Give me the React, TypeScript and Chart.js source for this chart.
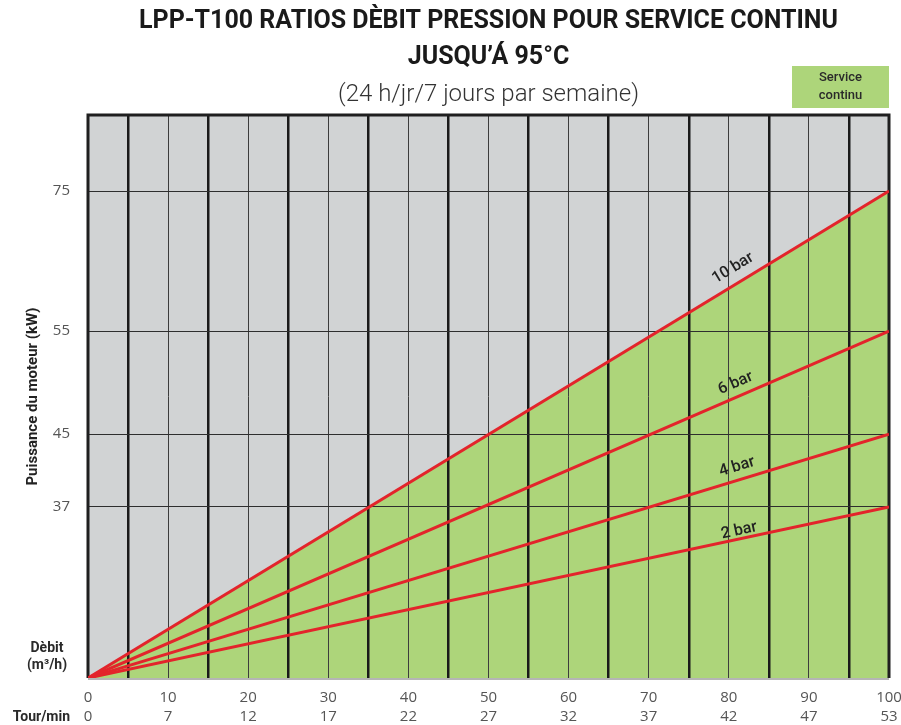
import React, { useEffect, useRef } from 'react';
import { Chart, registerables, LinearScale } from 'chart.js';

// ---------- data ----------
const DEBIT_TICKS = [0, 10, 20, 30, 40, 50, 60, 70, 80, 90, 100];
const TOUR_MIN = [0, 7, 12, 17, 22, 27, 32, 37, 42, 47, 53];
const DEBIT_RANGE = [0, 100];
const BAR_LABELS = ['10 bar', '6 bar', '4 bar', '2 bar'];
const KW_10 = [0, 75];
const KW_6 = [0, 55];
const KW_4 = [0, 45];
const KW_2 = [0, 37];
const KW_TICKS = [37, 45, 55, 75];

// ---------- style ----------
const GREY = '#d1d3d4';
const GREEN = '#add57a';
const RED = '#e3242b';
const DARK = '#1f1f1f';
const LABEL_AT = 81.5;
const LABEL_OFFSET = [15, 13, 13, 8];
// non-linear y axis of the reference: value -> fraction of plot height
const Y_STOPS: [number, number][] = [
  [0, 0],
  [37, 0.304],
  [45, 0.433],
  [55, 0.616],
  [75, 0.865],
  [87, 1],
];

function toDec(v: number) {
  for (let i = 1; i < Y_STOPS.length; i++) {
    const [v0, d0] = Y_STOPS[i - 1];
    const [v1, d1] = Y_STOPS[i];
    if (v <= v1 || i === Y_STOPS.length - 1) return d0 + ((v - v0) / (v1 - v0)) * (d1 - d0);
  }
  return 0;
}
function fromDec(d: number) {
  for (let i = 1; i < Y_STOPS.length; i++) {
    const [v0, d0] = Y_STOPS[i - 1];
    const [v1, d1] = Y_STOPS[i];
    if (d <= d1 || i === Y_STOPS.length - 1) return v0 + ((d - d0) / (d1 - d0)) * (v1 - v0);
  }
  return 0;
}

class StopScale extends LinearScale {
  static id = 'stops';
  static defaults = LinearScale.defaults;
  getPixelForValue(value: any) {
    if (value === null || value === undefined || Number.isNaN(value)) return NaN;
    return this.getPixelForDecimal(toDec(value));
  }
  getValueForPixel(pixel: number) {
    return fromDec(this.getDecimalForPixel(pixel));
  }
}

const plotBg = {
  id: 'plotBg',
  beforeDraw(chart: any) {
    const { ctx, chartArea: a } = chart;
    ctx.save();
    ctx.fillStyle = GREY;
    ctx.fillRect(a.left, a.top, a.right - a.left, a.bottom - a.top);
    ctx.restore();
  },
};

Chart.register(plotBg, ...registerables, StopScale as any);

const decor = {
  id: 'decor',
  beforeDatasetsDraw(chart: any) {
    const { ctx, chartArea: a } = chart;
    ctx.save();
    ctx.strokeStyle = '#b5b5b5';
    ctx.lineWidth = 2;
    ctx.beginPath();
    ctx.moveTo(a.left, a.bottom + 1);
    ctx.lineTo(a.right, a.bottom + 1);
    ctx.stroke();
    ctx.strokeStyle = DARK;
    ctx.lineWidth = 3;
    ctx.beginPath();
    ctx.moveTo(a.left, a.bottom);
    ctx.lineTo(a.left, a.top);
    ctx.lineTo(a.right, a.top);
    ctx.lineTo(a.right, a.bottom);
    ctx.stroke();
    ctx.restore();
  },
  afterDatasetsDraw(chart: any) {
    const { ctx, chartArea: a, scales } = chart;
    const xs = scales.x;
    const ys = scales.y;
    ctx.save();
    // line labels
    chart.data.datasets.forEach((ds: any, i: number) => {
      const p0 = ds.data[0];
      const p1 = ds.data[ds.data.length - 1];
      const x0 = xs.getPixelForValue(p0.x);
      const y0 = ys.getPixelForValue(p0.y);
      const x1 = xs.getPixelForValue(p1.x);
      const y1 = ys.getPixelForValue(p1.y);
      const px = xs.getPixelForValue(LABEL_AT);
      const t = (px - x0) / (x1 - x0);
      const py = y0 + t * (y1 - y0);
      const ang = Math.atan2(y1 - y0, x1 - x0);
      ctx.save();
      ctx.translate(px, py);
      ctx.rotate(ang);
      ctx.fillStyle = '#222';
      ctx.font = '500 16px Roboto';
      ctx.textAlign = 'center';
      ctx.textBaseline = 'middle';
      ctx.fillText(ds.label, 0, -LABEL_OFFSET[i]);
      ctx.restore();
    });
    // legend box
    const green = chart.data.datasets[0].backgroundColor;
    ctx.fillStyle = green;
    ctx.fillRect(a.right - 97, a.top - 49, 97, 42);
    ctx.fillStyle = '#2a2a2a';
    ctx.font = '500 13px Roboto';
    ctx.textAlign = 'center';
    ctx.textBaseline = 'middle';
    ctx.fillText('Service', a.right - 48.5, a.top - 37);
    ctx.fillText('continu', a.right - 48.5, a.top - 19);
    // corner labels
    ctx.fillStyle = '#2a2a2a';
    ctx.font = 'bold 14px Roboto';
    ctx.fillText('Dèbit', a.left - 41, a.bottom - 30);
    ctx.fillText('(m³/h)', a.left - 41, a.bottom - 13);
    ctx.textAlign = 'right';
    ctx.fillText('Tour/min', a.left - 18, a.bottom + 39);
    ctx.restore();
  },
};

export default function App() {
  const ref = useRef<HTMLCanvasElement | null>(null);
  useEffect(() => {
    if (!ref.current) return;
    const series = [KW_10, KW_6, KW_4, KW_2];
    const chart = new Chart(ref.current, {
      type: 'line',
      data: {
        datasets: series.map((s, i) => ({
          label: BAR_LABELS[i],
          data: DEBIT_RANGE.map((x, j) => ({ x, y: s[j] })),
          borderColor: RED,
          borderWidth: 3,
          pointRadius: 0,
          tension: 0,
          fill: i === 0 ? 'origin' : false,
          backgroundColor: i === 0 ? GREEN : 'transparent',
        })),
      },
      options: {
        responsive: false,
        animation: false,
        layout: { padding: { left: 0, right: 0, top: 0, bottom: 0 } },
        plugins: {
          legend: { display: false },
          tooltip: { enabled: false },
          filler: { drawTime: 'beforeDraw' },
          title: {
            display: true,
            fullSize: false,
            text: ['LPP-T100 RATIOS DÈBIT PRESSION POUR SERVICE CONTINU', 'JUSQU’Á 95°C'],
            color: '#1a1a1a',
            font: { family: 'Roboto', size: 25, weight: 'bold', lineHeight: 36 / 25 },
            padding: { top: 4, bottom: 7 },
          },
          subtitle: {
            display: true,
            fullSize: false,
            text: '(24 h/jr/7 jours par semaine)',
            color: '#333',
            font: { family: 'Roboto', size: 24, weight: '300', lineHeight: 1 },
            padding: { top: 0, bottom: 8 },
          },
        },
        scales: {
          x: {
            type: 'linear',
            min: 0,
            max: 100,
            afterBuildTicks: (s: any) => {
              s.ticks = DEBIT_TICKS.flatMap((v, i) =>
                i ? [{ value: (DEBIT_TICKS[i - 1] + v) / 2 }, { value: v }] : [{ value: v }]
              );
            },
            afterFit: (s: any) => {
              s.height = 47;
              s.paddingLeft = 0;
              s.paddingRight = 12;
            },
            ticks: {
              autoSkip: false,
              maxRotation: 0,
              padding: 10,
              color: '#555',
              font: { family: 'Open Sans', size: 15, lineHeight: 19 / 15 },
              callback: (value: any) => {
                const i = DEBIT_TICKS.indexOf(Number(value));
                return i < 0 ? '' : [String(DEBIT_TICKS[i]), String(TOUR_MIN[i])];
              },
            },
            grid: {
              drawTicks: false,
              color: (c: any) => (DEBIT_TICKS.includes(c.tick?.value) ? '#3c3c3c' : '#1a1a1a'),
              lineWidth: (c: any) => {
                const v = c.tick?.value;
                if (v === 0 || v === 100) return 0;
                return DEBIT_TICKS.includes(v) ? 1 : 2.5;
              },
            },
            border: { display: false },
          },
          y: {
            type: 'stops' as any,
            min: 0,
            max: 87,
            afterBuildTicks: (s: any) => {
              s.ticks = KW_TICKS.map((v) => ({ value: v }));
            },
            afterFit: (s: any) => {
              s.width = 88;
            },
            ticks: {
              padding: 18,
              color: '#555',
              font: { family: 'Open Sans', size: 15 },
              callback: (v: any) => String(v),
            },
            grid: { drawTicks: false, color: '#2e2e2e', lineWidth: 1 },
            border: { display: false },
            title: {
              display: true,
              text: 'Puissance du moteur (kW)',
              color: '#222',
              font: { family: 'Roboto', size: 15, weight: 'bold' },
              padding: { top: 24, bottom: 0 },
            },
          },
        },
      },
      plugins: [decor],
    } as any);
    return () => chart.destroy();
  }, []);
  return (
    <div style={{ position: 'absolute', left: 0, top: 0, width: 901, height: 725, background: '#fff' }}>
      <canvas ref={ref} width={901} height={725} style={{ display: 'block' }} />
    </div>
  );
}
